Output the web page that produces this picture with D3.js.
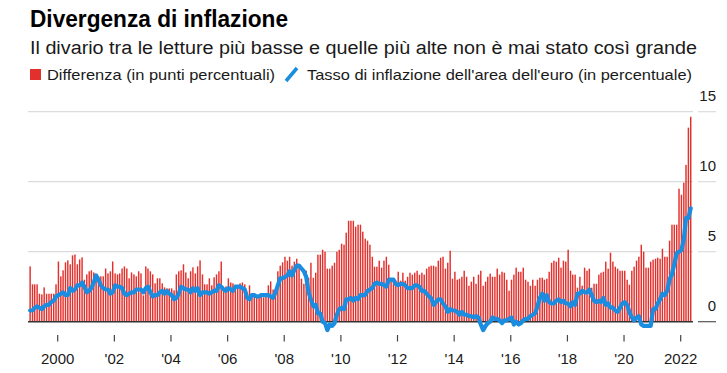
<!DOCTYPE html>
<html>
<head>
<meta charset="utf-8">
<script src="https://cdn.jsdelivr.net/npm/d3@7"></script>
<style>
  body { margin: 0; background: #fff; }
  text { font-family: "Liberation Sans", Arial, sans-serif; }
</style>
</head>
<body>
<svg id="chart" width="727" height="373"></svg>
<script>
// monthly data, Jan 1999 - May 2022
const startYear = 1999;

// difference between highest and lowest national reading (pp)
const spread = [
  3.95, 2.67, 2.67, 2.67, 2.0, 1.95, 2.45, 2.0, 2.0, 2.0, 2.0, 2.67,
  4.3, 3.24, 3.67, 4.24, 4.38, 4.1, 4.74, 4.8, 4.1, 4.45, 4.6, 3.0,
  3.38, 3.6, 3.67, 3.52, 3.24, 3.24, 3.24, 3.24, 3.8, 3.45, 3.6, 4.3,
  3.45, 3.38, 3.45, 3.8, 3.95, 3.8, 3.1, 3.52, 3.38, 3.24, 3.6, 3.45,
  1.88, 3.95, 3.8, 3.6, 3.38, 2.74, 3.1, 3.1, 2.74, 2.45, 2.38, 2.38,
  2.38, 2.24, 3.38, 3.6, 3.67, 4.1, 3.52, 3.1, 3.6, 3.88, 3.45, 3.95,
  4.38, 3.38, 2.67, 2.67, 3.1, 2.6, 3.17, 3.38, 3.6, 4.3, 2.3, 2.52,
  3.1, 2.8, 2.74, 2.52, 2.6, 2.74, 2.8, 2.67, 2.1, 2.6, 1.95, 2.0,
  1.88, 1.95, 1.8, 1.74, 2.0, 2.6, 2.88, 2.3, 1.95, 3.6, 4.0, 4.24,
  4.64, 4.36, 4.64, 4.0, 4.29, 4.5, 3.93, 3.07, 2.71, 3.64, 3.14, 4.21,
  3.14, 3.5, 4.79, 4.79, 5.14, 5.0, 3.79, 3.79, 4.0, 4.21, 5.0, 5.14,
  5.57, 5.5, 6.36, 7.21, 7.21, 7.21, 6.79, 6.93, 6.93, 6.43, 5.93, 5.79,
  5.5, 4.64, 3.93, 3.93, 4.36, 3.86, 4.36, 4.64, 4.07, 2.93, 3.07, 2.93,
  3.57, 2.93, 3.5, 2.93, 3.21, 3.5, 3.36, 3.5, 3.64, 3.36, 3.5, 3.36,
  3.79, 3.93, 4.0, 4.0, 3.93, 4.36, 4.57, 4.64, 3.79, 4.21, 5.07, 3.07,
  3.57, 3.0, 3.07, 3.21, 3.64, 3.21, 2.57, 2.86, 3.21, 2.71, 3.36, 3.64,
  2.57, 2.86, 3.21, 3.43, 3.21, 3.21, 3.79, 3.36, 3.57, 3.5, 3.0, 2.21,
  3.0, 3.36, 3.86, 3.57, 3.57, 3.86, 3.0, 2.86, 2.57, 3.0, 2.57, 3.0,
  3.14, 3.14, 3.0, 3.07, 3.57, 4.21, 4.36, 4.29, 4.57, 3.86, 4.36, 4.29,
  5.14, 3.64, 3.36, 3.36, 2.43, 3.21, 2.57, 3.86, 3.64, 3.79, 2.43, 2.71,
  2.71, 3.36, 3.5, 3.57, 4.29, 3.79, 4.93, 4.29, 3.93, 3.79, 3.64, 3.64,
  3.64, 3.0, 2.64, 3.64, 3.93, 4.36, 4.64, 5.5, 5.0, 3.86, 3.86, 4.29,
  4.43, 4.5, 4.57, 4.5, 5.21, 4.64, 4.64, 5.79, 6.93, 6.93, 6.93, 9.5,
  9.07, 9.93, 11.2, 13.86, 14.64
];

// euro area inflation rate (%)
const inflation = [
  0.8, 0.8, 1.0, 1.1, 1.0, 0.9, 1.1, 1.2, 1.2, 1.4, 1.5, 1.8,
  1.9, 2.0, 2.1, 1.9, 1.9, 2.4, 2.2, 2.3, 2.6, 2.6, 2.8, 2.5,
  2.1, 2.2, 2.4, 2.8, 3.3, 3.0, 2.6, 2.4, 2.3, 2.3, 2.0, 2.1,
  2.6, 2.5, 2.5, 2.4, 2.0, 1.9, 2.0, 2.1, 2.1, 2.3, 2.3, 2.3,
  2.1, 2.4, 2.5, 2.1, 1.8, 1.9, 1.9, 2.1, 2.2, 2.0, 2.2, 2.0,
  1.9, 1.6, 1.7, 2.0, 2.5, 2.4, 2.3, 2.3, 2.1, 2.4, 2.2, 2.4,
  1.9, 2.1, 2.1, 2.1, 2.0, 2.1, 2.2, 2.2, 2.6, 2.5, 2.3, 2.2,
  2.4, 2.3, 2.2, 2.5, 2.5, 2.5, 2.4, 2.3, 1.7, 1.6, 1.9, 1.9,
  1.8, 1.8, 1.9, 1.9, 1.9, 1.9, 1.8, 1.7, 2.1, 2.6, 3.1, 3.1,
  3.2, 3.3, 3.6, 3.3, 3.7, 4.0, 4.0, 3.8, 3.6, 3.2, 2.1, 1.6,
  1.1, 1.2, 0.6, 0.6, 0.0, -0.1, -0.6, -0.2, -0.3, -0.1, 0.5, 0.9,
  1.0, 0.9, 1.6, 1.6, 1.7, 1.5, 1.7, 1.6, 1.9, 1.9, 1.9, 2.2,
  2.3, 2.4, 2.7, 2.8, 2.7, 2.7, 2.6, 2.5, 3.0, 3.0, 3.0, 2.7,
  2.6, 2.7, 2.7, 2.6, 2.4, 2.4, 2.4, 2.6, 2.6, 2.5, 2.2, 2.2,
  2.0, 1.8, 1.7, 1.2, 1.4, 1.6, 1.6, 1.3, 1.1, 0.7, 0.9, 0.8,
  0.8, 0.7, 0.5, 0.7, 0.5, 0.5, 0.4, 0.4, 0.3, 0.4, 0.3, -0.2,
  -0.6, -0.3, -0.1, 0.0, 0.3, 0.2, 0.2, 0.1, -0.1, 0.1, 0.1, 0.2,
  0.3, -0.2, 0.0, -0.2, -0.1, 0.1, 0.2, 0.2, 0.4, 0.5, 0.6, 1.1,
  1.7, 2.0, 1.5, 1.9, 1.4, 1.3, 1.3, 1.5, 1.6, 1.4, 1.5, 1.3,
  1.3, 1.1, 1.4, 1.2, 2.0, 2.0, 2.2, 2.1, 2.1, 2.3, 1.9, 1.5,
  1.4, 1.5, 1.4, 1.7, 1.2, 1.3, 1.0, 1.0, 0.8, 0.7, 1.0, 1.3,
  1.4, 1.2, 0.7, 0.3, 0.1, 0.3, 0.4, -0.2, -0.3, -0.3, -0.3, -0.3,
  0.9, 0.9, 1.3, 1.6, 2.0, 1.9, 2.2, 3.0, 3.4, 4.1, 4.9, 5.0,
  5.1, 5.9, 7.4, 7.4, 8.1
];

const yTicks = [0, 5, 10, 15];
const xTickYears = [2000, 2002, 2004, 2006, 2008, 2010, 2012, 2014, 2016, 2018, 2020, 2022];
const xTickLabels = ["2000", "'02", "'04", "'06", "'08", "'10", "'12", "'14", "'16", "'18", "'20", "2022"];

const titleText = "Divergenza di inflazione";
const subtitleText = "Il divario tra le letture più basse e quelle più alte non è mai stato così grande";
const legendBars = "Differenza (in punti percentuali)";
const legendLine = "Tasso di inflazione dell'area dell'euro (in percentuale)";

const RED = "#e2312d";
const BLUE = "#1b8de0";

const svg = d3.select("#chart");

const plotLeft = 28, plotRight = 693;

// scales
const x = d3.scaleTime()
    .domain([new Date(2000, 0, 1), new Date(2022, 0, 1)])
    .range([57.7, 680.7]);
const y = d3.scaleLinear().domain([0, 15]).range([321.7, 111.7]);

const rows = spread.map((v, i) => ({
    date: new Date(startYear, i, 1),
    spread: v,
    infl: inflation[i]
}));

// header
svg.append("text")
    .attr("x", 30).attr("y", 27)
    .attr("font-size", 23).attr("font-weight", "bold")
    .attr("fill", "#000")
    .attr("textLength", 258).attr("lengthAdjust", "spacingAndGlyphs")
    .text(titleText);

svg.append("text")
    .attr("x", 30).attr("y", 54)
    .attr("font-size", 18)
    .attr("fill", "#1a1a1a")
    .attr("textLength", 667).attr("lengthAdjust", "spacingAndGlyphs")
    .text(subtitleText);

// legend
svg.append("rect")
    .attr("x", 30).attr("y", 69).attr("width", 11).attr("height", 11)
    .attr("fill", RED);
svg.append("text")
    .attr("x", 47).attr("y", 80)
    .attr("font-size", 15).attr("fill", "#1a1a1a")
    .attr("textLength", 228).attr("lengthAdjust", "spacingAndGlyphs")
    .text(legendBars);
svg.append("line")
    .attr("x1", 286).attr("y1", 81).attr("x2", 297).attr("y2", 68)
    .attr("stroke", BLUE).attr("stroke-width", 3.5);
svg.append("text")
    .attr("x", 307).attr("y", 80)
    .attr("font-size", 15).attr("fill", "#1a1a1a")
    .attr("textLength", 385).attr("lengthAdjust", "spacingAndGlyphs")
    .text(legendLine);

// grid lines (with short extension under the right-hand labels)
const grid = svg.append("g");
yTicks.filter(t => t > 0).forEach(t => {
    grid.append("line")
        .attr("x1", plotLeft).attr("x2", plotRight)
        .attr("y1", y(t)).attr("y2", y(t))
        .attr("stroke", "#dcdcdc").attr("stroke-width", 1.2);
});
yTicks.forEach(t => {
    grid.append("line")
        .attr("x1", 698).attr("x2", 716)
        .attr("y1", y(t)).attr("y2", y(t))
        .attr("stroke", t === 0 ? "#555" : "#dcdcdc").attr("stroke-width", 1.2);
    grid.append("text")
        .attr("x", 716).attr("y", y(t) - 10.5)
        .attr("text-anchor", "end")
        .attr("font-size", 15).attr("fill", "#1a1a1a")
        .text(t);
});

// bars
const barW = 1.45;
svg.append("g")
    .selectAll("rect")
    .data(rows)
    .enter().append("rect")
    .attr("x", d => x(d.date))
    .attr("y", d => y(d.spread))
    .attr("width", barW)
    .attr("height", d => y(0) - y(d.spread))
    .attr("fill", RED);

// zero line
svg.append("line")
    .attr("x1", plotLeft).attr("x2", plotRight)
    .attr("y1", y(0)).attr("y2", y(0))
    .attr("stroke", "#333").attr("stroke-width", 1.5);

// inflation line
const line = d3.line()
    .x(d => x(d.date) + barW / 2)
    .y(d => y(d.infl))
    .curve(d3.curveLinear);

svg.append("path")
    .datum(rows)
    .attr("d", line)
    .attr("fill", "none")
    .attr("stroke", BLUE)
    .attr("stroke-width", 4.2)
    .attr("stroke-linejoin", "round")
    .attr("stroke-linecap", "round");

// x axis
const xAxis = svg.append("g");
xTickYears.forEach((yr, i) => {
    const px = x(new Date(yr, 0, 1));
    xAxis.append("line")
        .attr("x1", px).attr("x2", px)
        .attr("y1", 335).attr("y2", 341.5)
        .attr("stroke", "#444").attr("stroke-width", 1.2);
    xAxis.append("text")
        .attr("x", px).attr("y", 364)
        .attr("text-anchor", "middle")
        .attr("font-size", 15).attr("fill", "#1a1a1a")
        .text(xTickLabels[i]);
});
</script>
</body>
</html>
